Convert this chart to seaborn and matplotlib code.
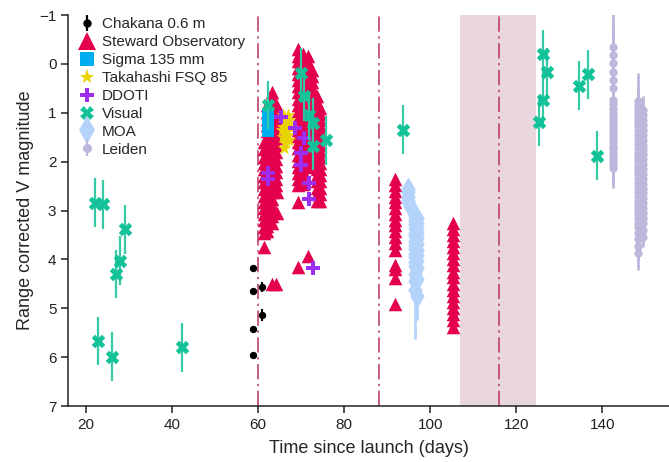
import matplotlib
matplotlib.use("Agg")
import matplotlib.pyplot as plt
import seaborn as sns
import pandas as pd
from matplotlib.lines import Line2D
from matplotlib.legend_handler import HandlerTuple

sns.set_style("ticks")
plt.rcParams['font.family'] = ['Liberation Sans', 'DejaVu Sans']
plt.rcParams['axes.unicode_minus'] = True

# ---------------- data ----------------
chakana_x = [58.8, 58.8, 58.8, 58.8, 60.9, 60.9]
chakana_y = [4.17, 4.65, 5.42, 5.95, 4.56, 5.14]
chakana_err = [0.0, 0.0, 0.0, 0.0, 0.1, 0.12]

steward_x = ([61.3] * 16 + [62.2] * 21 + [63.2] * 23 + [64.1] * 14 + [64.5] * 2
             + [69.4] * 25 + [70.4] * 22 + [71.6] * 20 + [72.6] * 10
             + [73.8] * 18 + [74.5] * 16
             + [91.9] * 17 + [105.4] * 18)
steward_y = [
    # night ~61-64
    1.6, 1.75, 1.9, 2.02, 2.15, 2.3, 2.41, 2.55, 2.7, 2.82, 2.95, 3.08, 3.2, 3.33, 3.45, 3.75,
    0.85, 0.98, 1.12, 1.25, 1.38, 1.5, 1.63, 1.78, 1.9, 2.03, 2.17, 2.3, 2.42, 2.55, 2.68, 2.81, 2.93, 3.07, 3.2, 3.32, 3.42,
    0.57, 0.7, 0.83, 0.97, 1.1, 1.22, 1.36, 1.48, 1.6, 1.74, 1.86, 2.0, 2.12, 2.25, 2.38, 2.5, 2.63, 2.76, 2.88, 3.0, 3.12, 3.25, 4.5,
    0.82, 0.96, 1.1, 1.24, 1.38, 1.52, 1.66, 1.8, 1.94, 2.08, 2.22, 2.36, 2.48, 4.5,
    2.62, 3.05,
    # night ~69-75
    -0.3, -0.17, -0.05, 0.08, 0.2, 0.33, 0.46, 0.58, 0.72, 0.85, 0.97, 1.1, 1.22, 1.35, 1.48, 1.6, 1.73, 1.86, 1.98, 2.1, 2.23, 2.36, 2.48, 2.82, 4.15,
    -0.2, -0.06, 0.07, 0.2, 0.32, 0.45, 0.58, 0.7, 0.83, 0.96, 1.08, 1.2, 1.33, 1.46, 1.58, 1.7, 1.82, 1.95, 2.08, 2.2, 2.33, 2.45,
    -0.16, -0.03, 0.1, 0.22, 0.35, 0.48, 0.6, 0.73, 0.86, 0.98, 1.1, 1.23, 1.36, 1.48, 1.6, 1.73, 1.86, 1.98, 2.1, 3.94,
    0.12, 0.25, 0.38, 0.5, 0.63, 0.76, 0.88, 1.0, 1.12, 1.25,
    0.66, 0.78, 0.9, 1.03, 1.16, 1.28, 1.4, 1.53, 1.66, 1.78, 1.9, 2.03, 2.16, 2.28, 2.4, 2.53, 2.66, 2.8,
    0.9, 1.02, 1.15, 1.28, 1.4, 1.53, 1.66, 1.78, 1.9, 2.03, 2.16, 2.28, 2.4, 2.53, 2.66, 2.8,
    # night ~92
    2.35, 2.47, 2.6, 2.72, 2.83, 2.95, 3.07, 3.19, 3.3, 3.42, 3.55, 3.67, 3.8, 4.12, 4.2, 4.38, 4.92,
    # night ~105
    3.25, 3.37, 3.5, 3.62, 3.75, 3.87, 4.0, 4.12, 4.25, 4.37, 4.5, 4.62, 4.75, 4.87, 5.0, 5.12, 5.25, 5.38,
]

sigma_x = [62.4, 62.4, 62.4, 62.4, 62.4, 62.4]
sigma_y = [1.03, 1.1, 1.18, 1.25, 1.31, 1.37]

taka_x = [65.5, 65.8, 66.0, 66.3, 66.5, 66.8, 67.0, 67.2, 66.2, 65.7, 67.5, 66.0, 66.9, 65.9, 67.3, 66.6]
taka_y = [1.35, 1.5, 1.2, 1.1, 1.4, 1.25, 1.05, 1.55, 1.62, 1.3, 1.3, 1.73, 1.45, 1.05, 1.15, 1.55]

ddoti_x = [62.4, 62.4, 65.3, 68.7, 70.7, 69.9, 69.9, 71.8, 71.8, 72.8]
ddoti_y = [2.24, 2.36, 1.08, 1.32, 1.52, 1.83, 2.07, 2.43, 2.77, 4.18]

visual_x = [22.1, 24.0, 29.0, 27.9, 27.0, 22.9, 26.0, 42.4,
            62.3, 69.9, 70.7, 71.8, 72.8, 72.8, 75.7, 93.6,
            126.2, 127.1, 126.2, 125.2, 134.7, 136.6, 138.7]
visual_y = [2.84, 2.87, 3.38, 4.03, 4.30, 5.67, 5.99, 5.80,
            0.84, 0.18, 0.66, 1.05, 1.2, 1.67, 1.56, 1.35,
            -0.2, 0.17, 0.74, 1.18, 0.45, 0.21, 1.88]
visual_err = [0.5] * 23

moa_x = [94.9, 94.9, 94.9, 94.9, 95.4] + [96.5] * 16 + [97.0] * 12
moa_y = [2.55, 2.63, 2.72, 2.8, 2.9,
         3.12, 3.2, 3.28, 3.36, 3.45, 3.53, 3.62, 3.7, 3.79, 3.88, 3.96, 4.05, 4.14, 4.3, 4.45, 4.62,
         3.15, 3.25, 3.35, 3.46, 3.57, 3.68, 3.8, 3.92, 4.04, 4.18, 4.4, 4.75]
moa_err = [0.1, 0.1, 0.1, 0.1, 0.1,
           0.1, 0.1, 0.1, 0.1, 0.1, 0.1, 0.1, 0.1, 0.1, 0.1, 0.1, 0.1, 0.1, 0.1, 0.1, 1.0,
           0.1, 0.1, 0.1, 0.1, 0.1, 0.1, 0.1, 0.1, 0.1, 0.1, 0.1, 0.5]

leiden_x = [142.5] * 25 + [148.3] * 34 + [149.5] * 26
leiden_y = [-0.35, -0.18, -0.02, 0.16, 0.33, 0.49, 0.74, 0.82, 0.92, 1.0, 1.07, 1.15, 1.22, 1.3, 1.38, 1.45, 1.52, 1.6, 1.68, 1.75, 1.83, 1.9, 1.97, 2.05, 2.12,
            0.75, 0.84, 0.93, 1.02, 1.1, 1.19, 1.28, 1.37, 1.46, 1.55, 1.64, 1.73, 1.82, 1.9, 1.99, 2.08, 2.17, 2.26, 2.35, 2.44, 2.53, 2.62, 2.71, 2.8,
            2.89, 2.98, 3.07, 3.16, 3.25, 3.34, 3.45, 3.58, 3.72, 3.87,
            0.95, 1.05, 1.15, 1.25, 1.35, 1.45, 1.55, 1.65, 1.75, 1.85, 1.95, 2.05, 2.15, 2.25, 2.35, 2.45, 2.55, 2.65, 2.75, 2.85,
            2.95, 3.05, 3.15, 3.25, 3.4, 3.55]
leiden_err = [0.85, 0.6, 0.4, 0.3, 0.3, 0.3, 0.3, 0.3, 0.3, 0.3, 0.3, 0.3, 0.3, 0.3, 0.3, 0.3, 0.3, 0.3, 0.3, 0.3, 0.3, 0.3, 0.35, 0.4, 0.42,
              0.56] + [0.3] * 32 + [0.34] + [0.3] + [0.2] * 25

event_lines = [60, 88, 116]
shade_span = [107, 124.7]

labels = ["Chakana 0.6 m", "Steward Observatory", "Sigma 135 mm", "Takahashi FSQ 85",
          "DDOTI", "Visual", "MOA", "Leiden"]
colors = ["#000000", "#e5004f", "#00aeef", "#e8d400", "#9d2ff2", "#14c29a", "#b4d3fb", "#bcb8dc"]

# ---------------- figure ----------------
fig = plt.figure(figsize=(6.69, 4.62), dpi=100)
ax = fig.add_axes([0.102, 0.1212, 0.898, 0.8463])

ax.axvspan(shade_span[0], shade_span[1], color="#ead6df", lw=0, zorder=0)
for v in event_lines:
    ax.axvline(v, color="#b8335f", lw=1.1, ls=(0, (10, 3, 1.5, 3)), zorder=1)

# Chakana
ax.errorbar(chakana_x, chakana_y, yerr=chakana_err, fmt="none", ecolor=colors[0], elinewidth=1.5, zorder=2)
sns.scatterplot(x=chakana_x, y=chakana_y, ax=ax, color=colors[0], marker="o", s=28, linewidth=0, zorder=3)

# Steward
sns.scatterplot(x=steward_x, y=steward_y, ax=ax, color=colors[1], marker="^", s=95, linewidth=0, zorder=3)
# Sigma
sns.scatterplot(x=sigma_x, y=sigma_y, ax=ax, color=colors[2], marker="s", s=85, linewidth=0, zorder=4)
# Takahashi
sns.scatterplot(x=taka_x, y=taka_y, ax=ax, color=colors[3], marker="*", s=110, linewidth=0, zorder=5)
# DDOTI
sns.scatterplot(x=ddoti_x, y=ddoti_y, ax=ax, color=colors[4], marker="P", s=95, linewidth=0, zorder=6)
# Visual
ax.errorbar(visual_x, visual_y, yerr=visual_err, fmt="none", ecolor="#35c9a6", elinewidth=1.6, zorder=6)
sns.scatterplot(x=visual_x, y=visual_y, ax=ax, color=colors[5], marker="X", s=95, linewidth=0, zorder=7)
# MOA
ax.errorbar(moa_x, moa_y, yerr=moa_err, fmt="none", ecolor=colors[6], elinewidth=2.0, zorder=3)
sns.scatterplot(x=moa_x, y=moa_y, ax=ax, color=colors[6], marker="d", s=150, linewidth=0, zorder=3)
# Leiden
ax.errorbar(leiden_x, leiden_y, yerr=leiden_err, fmt="none", ecolor=colors[7], elinewidth=2.0, zorder=3)
sns.scatterplot(x=leiden_x, y=leiden_y, ax=ax, color=colors[7], marker="o", s=36, linewidth=0, zorder=3)

ax.set_xlim(15.9, 155.5)
ax.set_ylim(7, -1)
ax.set_xticks([20, 40, 60, 80, 100, 120, 140])
ax.set_yticks([-1, 0, 1, 2, 3, 4, 5, 6, 7])
ax.tick_params(axis="both", labelsize=11, length=5, width=1.1, direction="out", colors="#222222")
ax.set_xlabel("Time since launch (days)", fontsize=13, labelpad=6)
ax.set_ylabel("Range corrected V magnitude", fontsize=13)
for side in ["top", "right"]:
    ax.spines[side].set_visible(False)
for side in ["left", "bottom"]:
    ax.spines[side].set_linewidth(1.1)
    ax.spines[side].set_color("#222222")

# legend
h_chak = (Line2D([], [], ls="none", marker="|", ms=12, mew=1.6, color=colors[0]),
          Line2D([], [], ls="none", marker="o", ms=5, color=colors[0]))
h_stew = Line2D([], [], ls="none", marker="^", ms=13, color=colors[1], mew=0)
h_sig = Line2D([], [], ls="none", marker="s", ms=10, color=colors[2], mew=0)
h_tak = Line2D([], [], ls="none", marker="*", ms=11, color=colors[3], mew=0)
h_dd = Line2D([], [], ls="none", marker="P", ms=10, color=colors[4], mew=0)
h_vis = Line2D([], [], ls="none", marker="X", ms=10, color=colors[5], mew=0)
h_moa = Line2D([], [], ls="none", marker="d", ms=14, color=colors[6], mew=0)
h_lei = (Line2D([], [], ls="none", marker="|", ms=12, mew=1.6, color=colors[7]),
         Line2D([], [], ls="none", marker="o", ms=5.5, color=colors[7]))
handles = [h_chak, h_stew, h_sig, h_tak, h_dd, h_vis, h_moa, h_lei]
leg = fig.legend(handles, labels, loc="upper left", bbox_to_anchor=(76 / 669, 1 - 17 / 462),
                 frameon=False, fontsize=11, handlelength=1.4, handletextpad=0.3,
                 labelspacing=0.26, borderpad=0, borderaxespad=0,
                 handler_map={tuple: HandlerTuple(ndivide=1, pad=0)})

fig.savefig("out.png", dpi=100)
